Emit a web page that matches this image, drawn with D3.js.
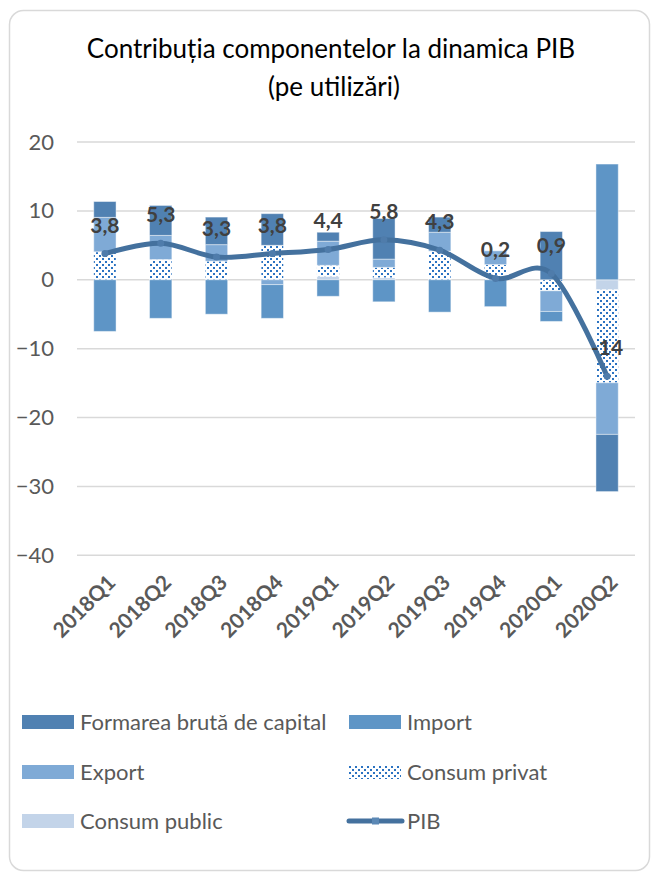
<!DOCTYPE html>
<html>
<head>
<meta charset="utf-8">
<script src="https://cdn.jsdelivr.net/npm/d3@7.9.0/dist/d3.min.js"></script>
<style>
  body { margin: 0; background: #fff; }
  svg { display: block; font-family: Lato, "Noto Sans", sans-serif; }
</style>
</head>
<body>
<svg width="653" height="878"></svg>
<script>
// values (percentage points)
const quarters = ['2018Q1','2018Q2','2018Q3','2018Q4','2019Q1','2019Q2','2019Q3','2019Q4','2020Q1','2020Q2'];
const formarea = [2.3, 4.35, 4.0, 4.6, 1.3, 5.9, 2.2, 0, 7.0, -8.3];
const importV  = [-7.5, -5.6, -5.0, -4.9, -2.4, -3.2, -4.7, -3.9, -1.45, 16.8];
const exportV  = [5.0, 3.5, 2.4, -0.7, 3.5, 1.2, 2.75, 2.0, -3.0, -7.5];
const privat   = [4.06, 2.94, 2.7, 5.0, 1.6, 1.5, 4.15, 2.2, -1.6, -13.5];
const publicV  = [0, 0, 0, 0, 0.5, 0.3, 0, 0, 0, -1.45];
const pib      = [3.8, 5.3, 3.3, 3.8, 4.4, 5.8, 4.3, 0.2, 0.9, -14];
const yTicks   = [20, 10, 0, -10, -20, -30, -40];

// stacking order from zero outward
const keys = ['publicV','privat','exportV','importV','formarea'];
const colors = {
  formarea: '#5081b2',
  importV: '#5e95c6',
  exportV: '#7faad6',
  privat: 'url(#dots)',
  publicV: '#c3d4e9'
};
const lineColor = '#44719e';

const rows = quarters.map((q, i) => ({
  q, formarea: formarea[i], importV: importV[i], exportV: exportV[i],
  privat: privat[i], publicV: publicV[i]
}));

const svg = d3.select('svg');

// dotted fill for Consum privat
const pat = svg.append('defs').append('pattern')
  .attr('id', 'dots').attr('width', 6).attr('height', 6)
  .attr('patternUnits', 'userSpaceOnUse');
pat.append('rect').attr('width', 6).attr('height', 6).attr('fill', '#fff');
pat.append('rect').attr('x', 0).attr('y', 0).attr('width', 2).attr('height', 2).attr('fill', '#2b73c2');
pat.append('rect').attr('x', 3).attr('y', 3).attr('width', 2).attr('height', 2).attr('fill', '#2b73c2');

// chart border
svg.append('rect')
  .attr('x', 9.5).attr('y', 10.5).attr('width', 640).attr('height', 860)
  .attr('rx', 14).attr('fill', '#fff').attr('stroke', '#d9d9d9').attr('stroke-width', 1.5);

// title
const title = svg.append('text').attr('text-anchor', 'middle').attr('fill', '#000').attr('font-size', 26);
title.append('tspan').attr('x', 331).attr('y', 58).text('Contribuția componentelor la dinamica PIB');
title.append('tspan').attr('x', 334).attr('y', 96).text('(pe utilizări)');

const x = d3.scaleBand().domain(quarters).range([77, 635]).paddingInner(0.6).paddingOuter(0.3);
const y = d3.scaleLinear().domain([-40, 20]).range([555.3, 142]);

// gridlines
svg.append('g').selectAll('line').data(yTicks).join('line')
  .attr('x1', 77).attr('x2', 635)
  .attr('y1', d => y(d)).attr('y2', d => y(d))
  .attr('stroke', '#d9d9d9').attr('stroke-width', 1.5);

// y axis labels
const yAxis = svg.append('g')
  .attr('transform', 'translate(60,0)')
  .call(d3.axisLeft(y).tickValues(yTicks).tickSize(0).tickPadding(6));
yAxis.select('.domain').remove();
yAxis.selectAll('text').attr('font-size', 22).attr('fill', '#595959').attr('font-family', 'Lato');

// stacked bars
const series = d3.stack().keys(keys).offset(d3.stackOffsetDiverging)(rows);
svg.append('g').selectAll('g').data(series).join('g')
  .attr('fill', d => colors[d.key])
  .selectAll('rect').data(d => d).join('rect')
  .attr('x', d => x(d.data.q))
  .attr('width', x.bandwidth())
  .attr('y', d => y(Math.max(d[0], d[1])))
  .attr('height', d => Math.abs(y(d[0]) - y(d[1])))
  .attr('stroke', '#fff').attr('stroke-opacity', 0.45).attr('stroke-width', 1);

// PIB line
const cx = q => x(q) + x.bandwidth() / 2;
const line = d3.line()
  .x((d, i) => cx(quarters[i]))
  .y(d => y(d))
  .curve(d3.curveCatmullRom.alpha(0));
svg.append('path').datum(pib)
  .attr('d', line)
  .attr('fill', 'none').attr('stroke', lineColor)
  .attr('stroke-width', 5).attr('stroke-linecap', 'round');
svg.append('g').selectAll('circle').data(pib).join('circle')
  .attr('cx', (d, i) => cx(quarters[i])).attr('cy', d => y(d))
  .attr('r', 3.5).attr('fill', '#4f7cab');

// data labels
const fmt = v => String(v).replace('.', ',');
svg.append('g').selectAll('text').data(pib).join('text')
  .attr('x', (d, i) => cx(quarters[i]))
  .attr('y', d => y(d) - 21)
  .attr('text-anchor', 'middle')
  .attr('font-size', 21).attr('font-weight', 'bold').attr('fill', '#404040')
  .text(fmt);

// x labels
svg.append('g').selectAll('text').data(quarters).join('text')
  .attr('transform', d => `translate(${cx(d) + 12},${584}) rotate(-45)`)
  .attr('text-anchor', 'end')
  .attr('font-size', 21).attr('font-weight', 'bold').attr('fill', '#595959')
  .text(d => d);

// legend
const legendItems = [
  { label: 'Formarea brută de capital', key: 'formarea', x: 22, y: 722 },
  { label: 'Import', key: 'importV', x: 349, y: 722 },
  { label: 'Export', key: 'exportV', x: 22, y: 772 },
  { label: 'Consum privat', key: 'privat', x: 349, y: 772 },
  { label: 'Consum public', key: 'publicV', x: 22, y: 821 },
  { label: 'PIB', key: 'pib', x: 349, y: 821 }
];
const lg = svg.append('g').selectAll('g').data(legendItems).join('g')
  .attr('transform', d => `translate(${d.x},${d.y})`);
lg.filter(d => d.key !== 'pib').append('rect')
  .attr('x', 0).attr('y', -7).attr('width', 52).attr('height', 14)
  .attr('fill', d => colors[d.key]);
const pibLg = lg.filter(d => d.key === 'pib');
pibLg.append('line').attr('x1', 0).attr('x2', 53).attr('y1', 0).attr('y2', 0)
  .attr('stroke', lineColor).attr('stroke-width', 5).attr('stroke-linecap', 'round');
pibLg.append('rect').attr('x', 23).attr('y', -3.5).attr('width', 7).attr('height', 7).attr('fill', '#5b88b5');
lg.append('text')
  .attr('x', 58).attr('y', 0).attr('dy', '0.35em')
  .attr('font-size', 22).attr('fill', '#595959')
  .text(d => d.label);
</script>
</body>
</html>
